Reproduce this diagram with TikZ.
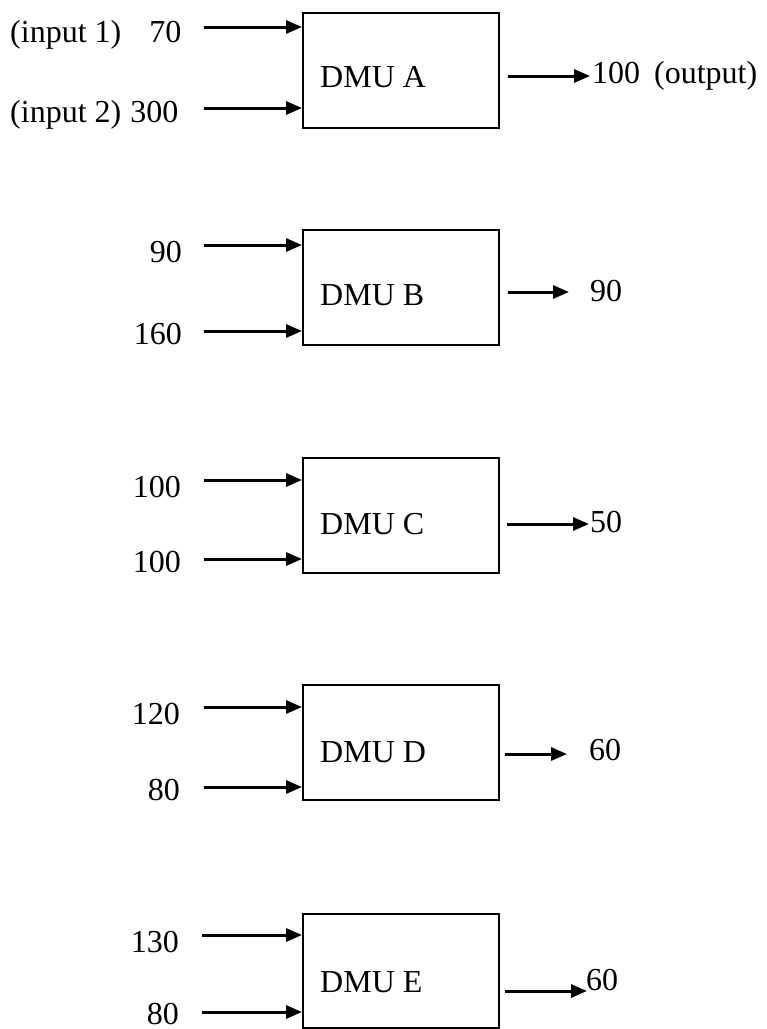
\documentclass[tikz,border=0pt]{standalone}
\usepackage{fontspec}
\setmainfont{Liberation Serif}
\usetikzlibrary{arrows.meta}
\begin{document}
\begin{tikzpicture}[x=1pt,y=-1pt,
  dmubox/.style={draw,line width=2.2pt,minimum width=196pt,minimum height=115pt,inner sep=0pt,anchor=north west},
  lbl/.style={inner sep=0pt,font=\fontsize{32}{38}\selectfont},
  flow/.style={line width=3pt,-{Triangle[length=16pt,width=13pt]}}]
\useasboundingbox (0,0) rectangle (767,1029);
\fill[white] (0,0) rectangle (767,1029);
% boxes
\node[dmubox] (A) at (302,12) {};
\node[dmubox] (B) at (302,229) {};
\node[dmubox] (C) at (302,457) {};
\node[dmubox] (D) at (302,684) {};
\node[dmubox,minimum height=114pt] (E) at (302,913) {};
% box labels
\node[lbl,anchor=base west] (tA) at (320,87) {DMU A};
\node[lbl,anchor=base west] (tB) at (320,305) {DMU B};
\node[lbl,anchor=base west] (tC) at (320,534) {DMU C};
\node[lbl,anchor=base west] (tD) at (320,762) {DMU D};
\node[lbl,anchor=base west] (tE) at (320,992) {DMU E};
% input labels
\node[lbl,anchor=base west] (iA1) at (10,42) {(input 1)\hspace{28pt}70};
\node[lbl,anchor=base west] (iA2) at (10,122) {(input 2)\hspace{9pt}300};
\node[lbl,anchor=base east] (iB1) at (182,262) {90};
\node[lbl,anchor=base east] (iB2) at (182,344) {160};
\node[lbl,anchor=base east] (iC1) at (181,497) {100};
\node[lbl,anchor=base east] (iC2) at (181,572) {100};
\node[lbl,anchor=base east] (iD1) at (180,724) {120};
\node[lbl,anchor=base east] (iD2) at (180,800) {80};
\node[lbl,anchor=base east] (iE1) at (179,952) {130};
\node[lbl,anchor=base east] (iE2) at (179,1024) {80};
% input arrow starts
\coordinate (sA1) at (204,27);  \coordinate (sA2) at (204,108);
\coordinate (sB1) at (204,245); \coordinate (sB2) at (204,331);
\coordinate (sC1) at (204,480); \coordinate (sC2) at (204,559);
\coordinate (sD1) at (204,707); \coordinate (sD2) at (204,787);
\coordinate (sE1) at (202,935); \coordinate (sE2) at (202,1012);
\foreach \b in {A,B,C,D,E}{
  \draw[flow] (s\b1) -- (s\b1 -| \b.west);
  \draw[flow] (s\b2) -- (s\b2 -| \b.west);
}
% outputs
\node[lbl,anchor=west] (oA) at (592,76) {100\hspace{14pt}(output)};
\node[lbl,anchor=west] (oB) at (590,291) {90};
\node[lbl,anchor=west] (oC) at (590,522) {50};
\node[lbl,anchor=west] (oD) at (589,750) {60};
\node[lbl,anchor=west] (oE) at (586,980) {60};
\coordinate (pA) at (508,76);  \coordinate (qA) at (590,76);
\coordinate (pB) at (508,292); \coordinate (qB) at (569,292);
\coordinate (pC) at (507,524); \coordinate (qC) at (589,524);
\coordinate (pD) at (505,754); \coordinate (qD) at (567,754);
\coordinate (pE) at (505,991); \coordinate (qE) at (587,991);
\foreach \b in {A,B,C,D,E}{
  \draw[flow] (p\b) -- (q\b);
}
\end{tikzpicture}
\end{document}
